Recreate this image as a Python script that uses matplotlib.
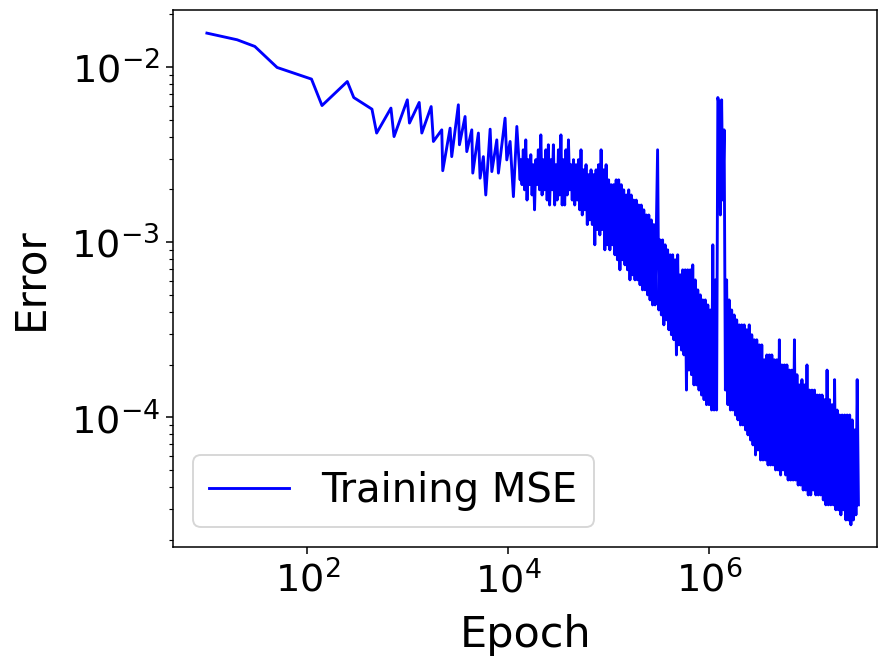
import matplotlib

matplotlib.use("Agg")
import matplotlib.pyplot as plt
import numpy as np

# Values (epoch, training MSE).
# Sparse start of training, every logged point visible.
early_epochs = [
    10, 20, 30, 50, 110, 140, 250, 290, 440, 490, 680, 730, 990, 1040,
    1300, 1380, 1710, 1800, 2180, 2230, 2640, 2740, 3190, 3270, 3720,
    3870, 4340, 4440, 5050, 5250, 5660, 5980, 6610, 6870, 7700, 7990,
    9310, 9680, 10450, 11270, 12190, 13150,
]
early_mse = [
    1.563e-2, 1.432e-2, 1.312e-2, 9.95e-3, 8.54e-3, 6.03e-3, 8.27e-3,
    6.70e-3, 5.75e-3, 4.20e-3, 5.83e-3, 4.01e-3, 6.50e-3, 4.79e-3,
    6.28e-3, 4.20e-3, 5.95e-3, 3.76e-3, 4.38e-3, 2.56e-3, 4.48e-3,
    3.08e-3, 6.09e-3, 3.60e-3, 5.22e-3, 3.29e-3, 4.38e-3, 2.48e-3,
    4.20e-3, 2.32e-3, 3.08e-3, 1.86e-3, 4.42e-3, 2.53e-3, 3.84e-3,
    2.48e-3, 5.11e-3, 2.95e-3, 3.76e-3, 1.82e-3, 4.58e-3, 2.27e-3,
]

# Dense, noisy part: high / low swings read decade by decade.
epochs_1e4 = [
    1.334e4, 1.372e4, 1.413e4, 1.454e4, 1.496e4, 1.540e4, 1.585e4, 1.631e4,
    1.679e4, 1.728e4, 1.778e4, 1.830e4, 1.884e4, 1.939e4, 1.995e4, 2.054e4,
    2.113e4, 2.175e4, 2.239e4, 2.304e4, 2.371e4, 2.441e4, 2.512e4, 2.585e4,
    2.661e4, 2.738e4, 2.818e4, 2.901e4, 2.985e4, 3.073e4, 3.162e4, 3.255e4,
    3.350e4, 3.447e4, 3.548e4, 3.652e4, 3.758e4, 3.868e4, 3.981e4, 4.097e4,
    4.217e4, 4.340e4, 4.467e4, 4.597e4, 4.732e4, 4.870e4, 5.012e4, 5.158e4,
    5.309e4, 5.464e4, 5.623e4, 5.788e4, 5.957e4, 6.131e4, 6.310e4, 6.494e4,
    6.683e4, 6.879e4, 7.080e4, 7.286e4, 7.499e4, 7.718e4, 7.943e4, 8.175e4,
    8.414e4, 8.660e4, 8.913e4, 9.173e4, 9.441e4, 9.716e4,
]
mse_1e4 = [
    2.96e-3, 2.13e-3, 3.37e-3, 1.99e-3, 3.84e-3, 1.74e-3, 2.96e-3, 2.13e-3,
    3.16e-3, 1.86e-3, 2.77e-3, 1.53e-3, 2.96e-3, 2.13e-3, 3.37e-3, 1.99e-3,
    4.10e-3, 1.86e-3, 2.96e-3, 1.99e-3, 3.37e-3, 1.74e-3, 3.60e-3, 1.63e-3,
    2.96e-3, 1.99e-3, 3.60e-3, 1.63e-3, 2.77e-3, 1.74e-3, 3.37e-3, 1.86e-3,
    4.10e-3, 1.63e-3, 2.96e-3, 1.63e-3, 3.37e-3, 1.86e-3, 3.84e-3, 1.99e-3,
    2.77e-3, 1.74e-3, 2.96e-3, 1.63e-3, 2.77e-3, 1.74e-3, 2.96e-3, 1.53e-3,
    3.37e-3, 1.43e-3, 2.59e-3, 1.53e-3, 2.77e-3, 1.26e-3, 2.43e-3, 1.34e-3,
    2.59e-3, 1.26e-3, 2.43e-3, 9.66e-4, 2.59e-3, 1.18e-3, 2.77e-3, 1.10e-3,
    3.37e-3, 1.18e-3, 2.59e-3, 9.04e-4, 2.77e-3, 9.66e-4,
]

epochs_1e5 = [
    1.000e5, 1.029e5, 1.059e5, 1.090e5, 1.122e5, 1.155e5, 1.189e5, 1.223e5,
    1.259e5, 1.296e5, 1.334e5, 1.372e5, 1.413e5, 1.454e5, 1.496e5, 1.540e5,
    1.585e5, 1.631e5, 1.679e5, 1.728e5, 1.778e5, 1.830e5, 1.884e5, 1.939e5,
    1.995e5, 2.054e5, 2.113e5, 2.175e5, 2.239e5, 2.304e5, 2.371e5, 2.441e5,
    2.512e5, 2.585e5, 2.661e5, 2.738e5, 2.818e5, 2.901e5, 2.985e5, 3.073e5,
    3.162e5, 3.255e5, 3.350e5, 3.447e5, 3.548e5, 3.652e5, 3.758e5, 3.868e5,
    3.981e5, 4.097e5, 4.217e5, 4.340e5, 4.467e5, 4.597e5, 4.732e5, 4.870e5,
    5.012e5, 5.158e5, 5.309e5, 5.464e5, 5.623e5, 5.788e5, 5.957e5, 6.131e5,
    6.310e5, 6.494e5, 6.683e5, 6.879e5, 7.080e5, 7.286e5, 7.499e5, 7.718e5,
    7.943e5, 8.175e5, 8.414e5, 8.660e5, 8.913e5, 9.173e5, 9.441e5, 9.716e5,
]
mse_1e5 = [
    2.27e-3, 9.04e-4, 2.13e-3, 9.66e-4, 2.13e-3, 8.47e-4, 2.27e-3, 7.93e-4,
    2.27e-3, 6.95e-4, 2.13e-3, 7.93e-4, 1.99e-3, 7.42e-4, 1.86e-3, 6.95e-4,
    1.99e-3, 6.09e-4, 1.86e-3, 6.51e-4, 1.74e-3, 6.09e-4, 1.74e-3, 6.09e-4,
    1.63e-3, 5.71e-4, 1.63e-3, 5.34e-4, 1.53e-3, 5.34e-4, 1.43e-3, 5.00e-4,
    1.43e-3, 4.68e-4, 1.34e-3, 4.38e-4, 1.26e-3, 4.38e-4, 1.26e-3, 3.37e-3,
    4.10e-4, 1.03e-3, 3.84e-4, 1.03e-3, 3.37e-4, 9.66e-4, 3.60e-4, 9.04e-4,
    3.16e-4, 8.47e-4, 2.96e-4, 8.47e-4, 2.77e-4, 7.93e-4, 2.27e-4, 8.47e-4,
    2.59e-4, 6.51e-4, 2.42e-4, 6.95e-4, 2.27e-4, 6.95e-4, 1.43e-4, 6.95e-4,
    1.86e-4, 6.95e-4, 1.75e-4, 7.42e-4, 1.53e-4, 6.09e-4, 1.53e-4, 5.34e-4,
    1.43e-4, 5.00e-4, 1.34e-4, 4.68e-4, 1.26e-4, 4.68e-4, 1.18e-4, 4.38e-4,
]

epochs_1e6 = [
    1.000e6, 1.029e6, 1.059e6, 1.090e6, 1.122e6, 1.155e6, 1.189e6, 1.223e6,
    1.259e6, 1.296e6, 1.334e6, 1.372e6, 1.413e6, 1.454e6, 1.496e6, 1.540e6,
    1.585e6, 1.631e6, 1.679e6, 1.728e6, 1.778e6, 1.830e6, 1.884e6, 1.939e6,
    1.995e6, 2.054e6, 2.113e6, 2.175e6, 2.239e6, 2.304e6, 2.371e6, 2.441e6,
    2.512e6, 2.585e6, 2.661e6, 2.738e6, 2.818e6, 2.901e6, 2.985e6, 3.073e6,
    3.162e6, 3.255e6, 3.350e6, 3.447e6, 3.548e6, 3.652e6, 3.758e6, 3.868e6,
    3.981e6, 4.097e6, 4.217e6, 4.340e6, 4.467e6, 4.597e6, 4.732e6, 4.870e6,
    5.012e6, 5.158e6, 5.309e6, 5.464e6, 5.623e6, 5.788e6, 5.957e6, 6.131e6,
    6.310e6, 6.494e6, 6.683e6, 6.879e6, 7.080e6, 7.286e6, 7.499e6, 7.718e6,
    7.943e6, 8.175e6, 8.414e6, 8.660e6, 8.913e6, 9.173e6, 9.441e6, 9.716e6,
]
mse_1e6 = [
    1.18e-4, 4.10e-4, 1.10e-4, 9.66e-4, 1.10e-4, 6.09e-4, 1.10e-4, 6.70e-3,
    6.09e-3, 1.43e-3, 6.50e-3, 1.74e-3, 4.38e-3, 1.43e-4, 6.09e-4, 1.18e-4,
    4.68e-4, 1.10e-4, 4.10e-4, 1.10e-4, 3.84e-4, 1.03e-4, 3.60e-4, 9.66e-5,
    3.37e-4, 9.04e-5, 3.37e-4, 9.04e-5, 3.37e-4, 8.47e-5, 3.16e-4, 7.93e-5,
    3.37e-4, 7.42e-5, 2.96e-4, 6.95e-5, 2.77e-4, 6.09e-5, 2.77e-4, 6.50e-5,
    2.59e-4, 5.70e-5, 2.59e-4, 5.70e-5, 2.13e-4, 5.70e-5, 2.27e-4, 5.34e-5,
    2.27e-4, 5.34e-5, 2.27e-4, 5.34e-5, 2.13e-4, 5.00e-5, 2.13e-4, 5.00e-5,
    2.77e-4, 4.68e-5, 1.99e-4, 5.00e-5, 1.99e-4, 4.68e-5, 1.99e-4, 4.38e-5,
    1.86e-4, 4.38e-5, 1.86e-4, 4.38e-5, 2.77e-4, 4.38e-5, 1.75e-4, 4.10e-5,
    1.53e-4, 4.10e-5, 1.64e-4, 3.84e-5, 1.53e-4, 3.84e-5, 1.99e-4, 3.60e-5,
]

epochs_1e7 = [
    1.000e7, 1.029e7, 1.059e7, 1.090e7, 1.122e7, 1.155e7, 1.189e7, 1.223e7,
    1.259e7, 1.296e7, 1.334e7, 1.372e7, 1.413e7, 1.454e7, 1.496e7, 1.540e7,
    1.585e7, 1.631e7, 1.679e7, 1.728e7, 1.778e7, 1.830e7, 1.884e7, 1.939e7,
    1.995e7, 2.054e7, 2.113e7, 2.175e7, 2.239e7, 2.304e7, 2.371e7, 2.441e7,
    2.512e7, 2.585e7, 2.661e7, 2.738e7, 2.818e7, 2.901e7, 2.985e7, 3.073e7,
]
mse_1e7 = [
    1.43e-4, 3.60e-5, 1.43e-4, 3.84e-5, 1.43e-4, 3.60e-5, 1.34e-4, 3.60e-5,
    1.34e-4, 3.60e-5, 1.34e-4, 3.37e-5, 1.26e-4, 3.16e-5, 1.86e-4, 3.16e-5,
    1.26e-4, 3.16e-5, 1.18e-4, 3.16e-5, 1.64e-4, 2.96e-5, 1.10e-4, 2.96e-5,
    1.03e-4, 2.77e-5, 1.03e-4, 2.96e-5, 1.03e-4, 2.59e-5, 1.03e-4, 2.59e-5,
    1.03e-4, 2.43e-5, 9.66e-5, 2.59e-5, 8.47e-5, 2.77e-5, 1.64e-4, 3.16e-5,
]

DPI = 137.5


def main() -> None:
    epochs = np.array(
        early_epochs + epochs_1e4 + epochs_1e5 + epochs_1e6 + epochs_1e7,
        dtype=float,
    )
    mse = np.array(early_mse + mse_1e4 + mse_1e5 + mse_1e6 + mse_1e7)

    fig = plt.figure(figsize=(879.2 / DPI, 660.2 / DPI), dpi=DPI)
    ax = fig.add_axes([0.1968, 0.1712, 0.8009, 0.8136])

    ax.plot(epochs, mse, color="blue", linewidth=1.5, label="Training MSE")

    ax.set_xscale("log")
    ax.set_yscale("log")
    ax.set_xlim(4.6, 4.72e7)
    ax.set_ylim(1.816e-5, 2.123e-2)

    ax.set_xlabel("Epoch", fontsize=22.5, labelpad=7)
    ax.set_ylabel("Error", fontsize=22, labelpad=10)
    ax.tick_params(axis="both", which="major", labelsize=20)
    ax.legend(loc="lower left", fontsize=21)

    fig.savefig("out.png", dpi=DPI)
    plt.close(fig)


if __name__ == "__main__":
    main()
